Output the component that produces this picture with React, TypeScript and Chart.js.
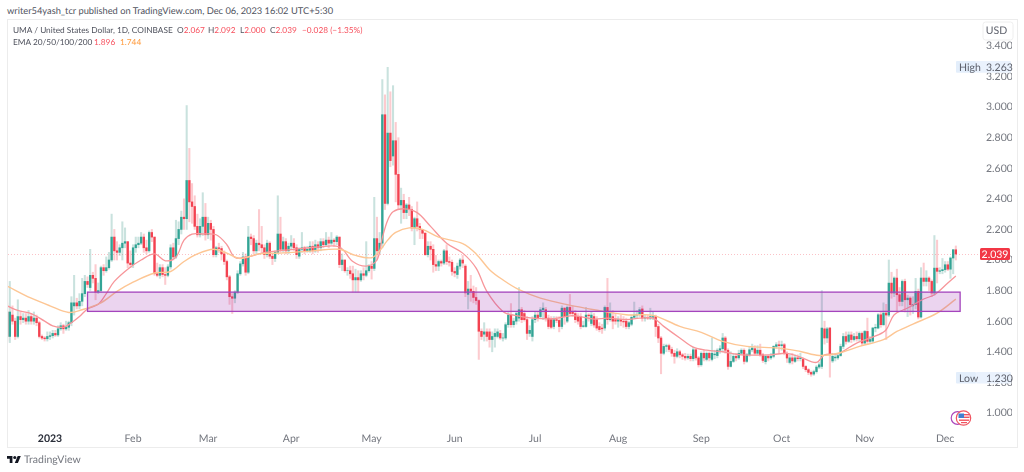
import React, { useEffect, useRef } from "react";
import { Chart, registerables } from "chart.js";

Chart.register(...registerables);

// First candle is 16 days before 1 Jan 2023; day 0 = 1 Jan 2023.
const firstDay = -16;

const opens = [
  1.66,1.50,1.64,1.60,1.50,1.63,1.61,1.62,1.60,1.63,
  1.60,1.62,1.59,1.50,1.49,1.485,1.50,1.505,1.52,1.51,
  1.55,1.57,1.55,1.56,1.59,1.70,1.72,1.70,1.73,1.78,
  1.86,1.82,1.90,1.88,1.79,1.80,1.95,1.93,1.95,2.00,
  2.15,2.06,2.05,2.08,2.11,2.12,1.98,1.97,2.08,2.10,
  2.11,2.15,2.08,2.06,2.18,2.15,1.91,1.90,1.95,1.905,
  1.90,1.955,2.08,2.02,2.14,2.20,2.28,2.27,2.52,2.38,
  2.35,2.22,2.165,2.22,2.28,2.165,2.24,2.20,2.035,2.08,
  2.075,2.04,1.99,1.89,1.76,1.75,1.79,1.91,1.975,2.02,
  1.92,2.15,2.14,2.06,2.11,2.10,2.08,2.035,2.11,2.025,
  2.01,2.05,2.17,2.07,2.12,2.06,2.09,2.11,2.08,2.025,
  2.07,2.08,2.06,2.06,2.09,2.06,2.10,2.08,2.12,2.10,
  2.13,2.11,2.13,2.12,2.15,1.97,2.00,1.93,1.93,1.91,
  1.87,1.885,1.87,1.91,1.90,1.93,1.96,1.945,2.14,2.06,
  2.11,2.95,2.37,2.83,2.68,2.78,2.56,2.36,2.39,2.31,
  2.36,2.33,2.21,2.27,2.22,2.20,2.175,2.035,2.09,2.07,
  1.97,1.96,1.99,1.98,2.06,1.99,1.985,1.925,1.905,1.96,
  2.00,1.96,1.775,1.81,1.795,1.755,1.735,1.534,1.515,1.53,
  1.53,1.48,1.50,1.50,1.52,1.49,1.49,1.577,1.64,1.577,
  1.60,1.62,1.675,1.65,1.61,1.52,1.50,1.61,1.64,1.63,
  1.675,1.675,1.62,1.61,1.565,1.61,1.605,1.565,1.685,1.60,
  1.69,1.66,1.65,1.63,1.63,1.565,1.565,1.64,1.585,1.63,
  1.61,1.565,1.555,1.555,1.69,1.61,1.63,1.61,1.60,1.61,
  1.60,1.60,1.565,1.58,1.625,1.64,1.645,1.68,1.62,1.625,
  1.62,1.625,1.63,1.565,1.49,1.39,1.435,1.44,1.415,1.39,
  1.37,1.40,1.38,1.37,1.36,1.37,1.355,1.413,1.36,1.315,
  1.39,1.35,1.39,1.35,1.38,1.375,1.41,1.42,1.49,1.41,
  1.304,1.337,1.37,1.36,1.39,1.41,1.337,1.38,1.413,1.42,
  1.39,1.41,1.38,1.335,1.37,1.36,1.37,1.435,1.446,1.44,
  1.446,1.39,1.33,1.36,1.337,1.36,1.355,1.35,1.304,1.283,
  1.265,1.254,1.27,1.30,1.304,1.55,1.49,1.555,1.34,1.36,
  1.36,1.375,1.435,1.50,1.468,1.51,1.48,1.50,1.485,1.52,
  1.457,1.533,1.468,1.47,1.555,1.555,1.642,1.577,1.653,1.64,
  1.849,1.784,1.882,1.773,1.729,1.86,1.74,1.751,1.70,1.708,
  1.795,1.627,1.882,1.86,1.882,1.86,1.784,1.947,1.926,1.93,
  1.937,1.969,1.94,2.013,2.067,
];

const closes = [
  1.50,1.66,1.60,1.50,1.63,1.61,1.62,1.60,1.63,1.60,
  1.62,1.59,1.50,1.49,1.485,1.50,1.505,1.52,1.51,1.55,
  1.57,1.55,1.56,1.59,1.72,1.72,1.70,1.73,1.78,1.86,
  1.84,1.90,1.88,1.79,1.80,1.95,1.93,1.95,2.00,2.15,
  2.06,2.05,2.08,2.11,2.12,1.98,1.97,2.08,2.10,2.11,
  2.15,2.08,2.06,2.18,2.15,1.91,1.90,1.95,1.905,1.90,
  1.955,2.08,2.02,2.14,2.20,2.28,2.27,2.52,2.38,2.35,
  2.22,2.165,2.22,2.28,2.165,2.24,2.20,2.035,2.08,2.075,
  2.04,1.99,1.89,1.76,1.75,1.79,1.91,1.975,2.02,1.92,
  2.15,2.14,2.06,2.11,2.10,2.08,2.035,2.11,2.025,2.01,
  2.05,2.17,2.07,2.12,2.06,2.09,2.11,2.08,2.035,2.07,
  2.08,2.06,2.07,2.09,2.06,2.10,2.08,2.12,2.10,2.13,
  2.11,2.13,2.12,2.15,1.97,2.00,1.93,1.93,1.91,1.87,
  1.885,1.87,1.91,1.90,1.93,1.96,1.945,2.14,2.06,2.11,
  2.95,2.37,2.83,2.65,2.78,2.56,2.36,2.39,2.31,2.36,
  2.33,2.21,2.27,2.22,2.20,2.175,2.035,2.09,2.07,1.97,
  1.96,1.99,1.98,2.06,1.99,1.985,1.925,1.915,1.96,2.00,
  1.98,1.785,1.81,1.795,1.755,1.735,1.534,1.50,1.53,1.50,
  1.48,1.50,1.52,1.53,1.49,1.49,1.577,1.64,1.577,1.60,
  1.65,1.675,1.61,1.61,1.52,1.54,1.61,1.64,1.62,1.675,
  1.685,1.62,1.565,1.56,1.61,1.605,1.565,1.685,1.63,1.69,
  1.65,1.65,1.61,1.60,1.565,1.57,1.64,1.635,1.64,1.575,
  1.555,1.545,1.55,1.69,1.61,1.65,1.60,1.60,1.61,1.60,
  1.595,1.565,1.59,1.625,1.64,1.645,1.675,1.62,1.625,1.62,
  1.63,1.63,1.565,1.49,1.39,1.435,1.44,1.415,1.39,1.37,
  1.40,1.38,1.37,1.36,1.37,1.355,1.413,1.36,1.315,1.39,
  1.36,1.39,1.36,1.39,1.385,1.41,1.42,1.49,1.41,1.304,
  1.337,1.37,1.36,1.39,1.41,1.337,1.38,1.413,1.424,1.39,
  1.41,1.38,1.343,1.37,1.36,1.37,1.435,1.446,1.44,1.446,
  1.39,1.359,1.36,1.34,1.36,1.355,1.36,1.304,1.283,1.265,
  1.254,1.27,1.30,1.315,1.555,1.49,1.55,1.38,1.37,1.365,
  1.375,1.435,1.50,1.468,1.51,1.48,1.50,1.485,1.52,1.457,
  1.533,1.468,1.48,1.555,1.56,1.642,1.577,1.653,1.64,1.849,
  1.784,1.882,1.773,1.729,1.86,1.74,1.751,1.708,1.71,1.795,
  1.627,1.882,1.86,1.882,1.86,1.784,1.947,1.926,1.93,1.937,
  1.969,1.94,2.013,2.067,2.039,
];

const highs = [
  1.72,1.86,1.70,1.62,1.74,1.66,1.65,1.65,1.67,1.65,
  1.66,1.64,1.60,1.51,1.50,1.53,1.53,1.54,1.54,1.57,
  1.59,1.58,1.60,1.60,1.76,1.90,1.75,1.78,1.88,1.90,
  1.89,2.07,1.92,1.97,1.85,1.96,1.97,2.02,2.05,2.30,
  2.20,2.12,2.10,2.25,2.21,2.12,2.06,2.10,2.15,2.15,
  2.18,2.17,2.13,2.19,2.20,2.15,1.98,1.97,1.97,1.95,
  1.97,2.10,2.11,2.26,2.25,2.32,2.40,3.01,2.73,2.50,
  2.42,2.30,2.27,2.44,2.37,2.28,2.26,2.22,2.09,2.11,
  2.09,2.06,2.00,1.90,1.78,1.80,1.93,1.99,2.05,2.04,
  2.22,2.17,2.16,2.13,2.33,2.22,2.10,2.13,2.12,2.04,
  2.06,2.42,2.28,2.15,2.14,2.11,2.16,2.14,2.10,2.08,
  2.18,2.09,2.09,2.12,2.12,2.13,2.12,2.14,2.14,2.18,
  2.15,2.18,2.14,2.16,2.15,2.04,2.00,1.95,1.96,1.96,
  1.94,1.93,1.93,1.95,2.12,1.97,1.99,2.41,2.28,2.18,
  3.18,3.08,3.26,3.10,3.14,2.90,2.80,2.47,2.43,2.37,
  2.41,2.35,2.28,2.38,2.24,2.20,2.18,2.12,2.12,2.10,
  2.03,2.00,2.00,2.07,2.10,2.02,2.00,1.95,1.98,2.01,
  2.03,1.97,1.86,1.90,1.83,1.82,1.74,1.55,1.59,1.55,
  1.55,1.53,1.55,1.55,1.54,1.52,1.59,1.66,1.715,1.62,
  1.66,1.82,1.69,1.67,1.63,1.57,1.63,1.66,1.66,1.69,
  1.72,1.69,1.64,1.63,1.63,1.63,1.63,1.70,1.69,1.70,
  1.775,1.70,1.67,1.65,1.65,1.60,1.69,1.65,1.66,1.65,
  1.63,1.59,1.58,1.70,1.88,1.72,1.67,1.65,1.63,1.64,
  1.63,1.62,1.60,1.64,1.725,1.67,1.69,1.70,1.64,1.64,
  1.685,1.66,1.64,1.58,1.50,1.45,1.45,1.45,1.43,1.41,
  1.42,1.41,1.39,1.39,1.385,1.385,1.43,1.42,1.37,1.40,
  1.41,1.40,1.40,1.49,1.41,1.42,1.44,1.52,1.50,1.42,
  1.40,1.39,1.39,1.41,1.42,1.42,1.39,1.43,1.45,1.44,
  1.44,1.45,1.39,1.38,1.38,1.39,1.44,1.46,1.47,1.47,
  1.455,1.40,1.38,1.39,1.38,1.38,1.39,1.36,1.31,1.29,
  1.275,1.28,1.31,1.33,1.80,1.60,1.56,1.56,1.39,1.39,
  1.39,1.45,1.52,1.53,1.53,1.53,1.52,1.53,1.53,1.53,
  1.54,1.62,1.50,1.56,1.58,1.65,1.66,1.72,1.71,2.00,
  1.92,1.89,1.94,1.82,1.87,1.875,1.77,1.76,1.76,1.88,
  1.81,1.95,1.98,1.93,1.89,1.87,2.16,2.13,1.95,2.01,
  1.99,1.99,2.02,2.07,2.092,
];

const lows = [
  1.47,1.46,1.58,1.48,1.49,1.58,1.59,1.58,1.58,1.58,
  1.58,1.57,1.49,1.48,1.47,1.47,1.48,1.49,1.50,1.50,
  1.54,1.52,1.54,1.54,1.57,1.64,1.68,1.68,1.70,1.76,
  1.82,1.80,1.85,1.74,1.78,1.79,1.90,1.92,1.94,1.99,
  2.00,2.00,2.03,2.00,2.08,1.95,1.95,1.95,2.05,2.08,
  2.10,2.05,2.04,2.05,2.12,1.90,1.89,1.88,1.89,1.84,
  1.89,1.94,2.00,2.01,2.10,2.17,2.20,2.20,2.25,2.24,
  2.20,2.15,2.15,2.16,2.13,2.14,2.13,2.02,2.02,2.05,
  2.00,1.97,1.87,1.71,1.65,1.72,1.78,1.90,1.96,1.90,
  1.91,2.10,2.04,2.04,2.06,2.05,2.01,2.02,2.01,1.97,
  1.99,2.04,2.05,2.05,2.04,2.04,2.07,2.06,2.01,2.01,
  2.05,2.04,2.05,2.05,2.04,2.05,2.05,2.06,2.08,2.09,
  2.08,2.10,2.09,2.10,1.95,1.93,1.92,1.90,1.88,1.79,
  1.79,1.79,1.86,1.87,1.89,1.92,1.875,1.93,2.00,2.04,
  2.08,2.33,2.36,2.61,2.62,2.38,2.33,2.24,2.27,2.27,
  2.29,2.19,2.10,2.19,2.14,2.14,2.03,2.02,2.00,1.92,
  1.93,1.93,1.96,1.97,1.97,1.96,1.90,1.89,1.88,1.94,
  1.95,1.76,1.68,1.73,1.72,1.71,1.35,1.48,1.47,1.47,
  1.43,1.40,1.43,1.49,1.48,1.47,1.48,1.56,1.56,1.56,
  1.58,1.60,1.59,1.60,1.48,1.50,1.47,1.59,1.60,1.62,
  1.61,1.60,1.55,1.55,1.55,1.59,1.53,1.55,1.58,1.59,
  1.64,1.63,1.59,1.58,1.55,1.56,1.56,1.60,1.57,1.56,
  1.54,1.53,1.52,1.54,1.58,1.60,1.55,1.58,1.56,1.57,
  1.56,1.55,1.55,1.57,1.62,1.62,1.63,1.60,1.60,1.61,
  1.61,1.61,1.50,1.46,1.256,1.38,1.40,1.40,1.37,1.325,
  1.36,1.36,1.35,1.345,1.35,1.34,1.34,1.345,1.30,1.305,
  1.34,1.34,1.34,1.34,1.355,1.36,1.39,1.40,1.39,1.285,
  1.30,1.33,1.34,1.35,1.38,1.32,1.33,1.37,1.40,1.38,
  1.38,1.37,1.33,1.32,1.34,1.35,1.36,1.42,1.39,1.41,
  1.38,1.33,1.32,1.32,1.33,1.34,1.34,1.29,1.27,1.25,
  1.24,1.245,1.26,1.29,1.29,1.45,1.46,1.234,1.33,1.34,
  1.35,1.37,1.42,1.45,1.46,1.46,1.47,1.47,1.47,1.44,
  1.45,1.45,1.46,1.46,1.53,1.55,1.56,1.57,1.48,1.63,
  1.75,1.76,1.66,1.70,1.70,1.66,1.63,1.64,1.65,1.68,
  1.615,1.62,1.83,1.83,1.80,1.76,1.77,1.85,1.91,1.91,
  1.92,1.93,1.88,1.91,2.00,
];

const ema20Days = [-16,-12,-7,-2,1,5,8,11,14,18,21,24,29,34,39,43,47,50,53,57,62,66,69,74,79,85,91,100,108,113,118,122,124,126,128,132,137,142,148,154,159,163,169,174,180,188,195,203,208,215,220,225,229,235,240,245,251,258,269,275,280,286,289,294,301,309,312,315,320,326,330,335,338];
const ema20Values = [1.70,1.67,1.65,1.60,1.57,1.56,1.59,1.63,1.68,1.71,1.78,1.86,1.94,2.00,2.04,1.995,2.02,2.13,2.17,2.17,2.165,2.10,2.017,2.02,2.045,2.06,2.07,2.085,2.085,1.99,1.96,2.00,2.145,2.26,2.315,2.335,2.31,2.22,2.11,2.045,1.947,1.795,1.664,1.636,1.62,1.616,1.636,1.614,1.62,1.61,1.62,1.62,1.566,1.49,1.43,1.41,1.40,1.38,1.38,1.39,1.365,1.33,1.38,1.387,1.457,1.51,1.544,1.642,1.686,1.745,1.773,1.85,1.896];

const ema50Days = [-16,-7,0,7,12,19,25,31,39,45,50,55,61,66,71,78,86,98,108,114,120,123,126,129,134,139,145,154,159,164,169,175,183,193,203,215,225,235,243,251,260,272,280,287,294,302,311,316,322,331,338];
const ema50Values = [1.83,1.75,1.70,1.657,1.675,1.72,1.795,1.855,1.915,1.925,1.99,2.04,2.07,2.045,2.01,2.04,2.045,2.06,2.07,2.03,2.015,2.06,2.13,2.18,2.21,2.20,2.15,2.107,2.04,1.937,1.87,1.806,1.751,1.708,1.675,1.642,1.638,1.566,1.527,1.468,1.435,1.424,1.402,1.376,1.39,1.435,1.479,1.533,1.581,1.653,1.744];

const monthDays = [0,31,59,90,120,151,181,212,243,273,304,334];
const monthLabels = ["2023","Feb","Mar","Apr","May","Jun","Jul","Aug","Sep","Oct","Nov","Dec"];
const priceTicks = [1.0,1.2,1.4,1.6,1.8,2.0,2.2,2.4,2.6,2.8,3.0,3.2,3.4];

const zoneLow = 1.664;
const zoneHigh = 1.79;
const zoneStartDay = 14;
const zoneEndDay = 339.6;
const lastPrice = 2.039;
const highPrice = 3.263;
const lowPrice = 1.23;
const fontName = "Lato, sans-serif";

const GREEN = "rgba(38,160,143,0.92)";
const RED = "rgba(242,54,69,0.92)";
const GREEN_WICK = "rgba(38,140,125,0.25)";
const RED_WICK = "rgba(242,54,69,0.26)";

const days = closes.map((_, i) => firstDay + i);
const isUp = closes.map((c, i) => c >= opens[i]);

function roundedBox(ctx: CanvasRenderingContext2D, x: number, y: number, w: number, h: number, r: number) {
  ctx.beginPath();
  ctx.roundRect(x, y, w, h, r);
}

const overlayPlugin = {
  id: "tvOverlay",
  beforeDraw(chart: any) {
    chart.ctx.textRendering = "geometricPrecision";
  },
  beforeDatasetsDraw(chart: any) {
    const { ctx, chartArea, scales } = chart;
    const y = scales.y.getPixelForValue(lastPrice);
    ctx.save();
    ctx.strokeStyle = "rgba(242,54,69,0.3)";
    ctx.lineWidth = 1;
    ctx.setLineDash([1, 2]);
    ctx.beginPath();
    ctx.moveTo(chartArea.left, Math.round(y) + 0.5);
    ctx.lineTo(chartArea.right, Math.round(y) + 0.5);
    ctx.stroke();
    ctx.restore();
  },
  afterDatasetsDraw(chart: any) {
    const { ctx, scales } = chart;
    const x0 = scales.x.getPixelForValue(zoneStartDay);
    const x1 = scales.x.getPixelForValue(zoneEndDay);
    const y0 = scales.y.getPixelForValue(zoneHigh);
    const y1 = scales.y.getPixelForValue(zoneLow);
    ctx.save();
    ctx.fillStyle = "rgba(156,39,176,0.2)";
    ctx.fillRect(x0, y0, x1 - x0, y1 - y0);
    ctx.strokeStyle = "#a445bd";
    ctx.lineWidth = 1.3;
    ctx.strokeRect(x0, y0, x1 - x0, y1 - y0);
    ctx.restore();
  },
  afterDraw(chart: any) {
    const { ctx, scales } = chart;
    ctx.save();
    ctx.textBaseline = "middle";
    ctx.font = `10.5px ${fontName}`;
    const pill = (label: string, value: number) => {
      const cy = scales.y.getPixelForValue(value);
      ctx.fillStyle = "#e3eefb";
      roundedBox(ctx, 956, cy - 5.8, 20, 11.6, 1);
      ctx.fill();
      ctx.fillStyle = "#eaf2fd";
      roundedBox(ctx, 976, cy - 5.8, 35, 11.6, 1);
      ctx.fill();
      ctx.fillStyle = "#5d606b";
      ctx.textAlign = "left";
      ctx.fillText(label, 959, cy + 0.5);
      ctx.fillText(value.toFixed(3), 986, cy + 0.5);
    };
    pill("High", highPrice);
    pill("Low", lowPrice);

    const ly = scales.y.getPixelForValue(lastPrice);
    ctx.fillStyle = "#f23645";
    roundedBox(ctx, 980, ly - 6, 30, 12, 1.5);
    ctx.fill();
    ctx.fillStyle = "#ffffff";
    ctx.textAlign = "center";
    ctx.fillText(lastPrice.toFixed(3), 995, ly + 0.5);

    ctx.fillStyle = "#ffffff";
    ctx.strokeStyle = "#eeeeee";
    roundedBox(ctx, 983, 22, 30, 18, 2.5);
    ctx.fill();
    ctx.stroke();
    ctx.fillStyle = "#5d606b";
    ctx.fillText("USD", 996.5, 31);

    // Symbol badge at the end of the chart
    ctx.lineWidth = 1.2;
    ctx.strokeStyle = "#ab47bc";
    ctx.beginPath();
    ctx.arc(957.5, 418, 6.3, 0, Math.PI * 2);
    ctx.stroke();
    ctx.fillStyle = "#ffffff";
    ctx.beginPath();
    ctx.arc(963.5, 418, 7.2, 0, Math.PI * 2);
    ctx.fill();
    ctx.strokeStyle = "#f0535f";
    ctx.stroke();
    ctx.fillStyle = "#3f7fd0";
    ctx.fillRect(958.5, 413.5, 5.5, 4.5);
    ctx.fillStyle = "#f0535f";
    ctx.fillRect(964, 414, 5.5, 1.4);
    ctx.fillRect(964, 416.6, 5.5, 1.4);
    ctx.fillRect(959, 419.5, 10, 1.4);
    ctx.fillRect(961, 422, 6, 1.2);
    ctx.restore();
  },
};

export default function App() {
  const ref = useRef<HTMLCanvasElement | null>(null);

  useEffect(() => {
    if (!ref.current) return;
    const chart = new Chart(ref.current, {
      type: "bar",
      data: {
        datasets: [
          {
            type: "line",
            label: "EMA 20",
            data: ema20Days.map((d, i) => ({ x: d, y: ema20Values[i] })),
            borderColor: "#f7969a",
            borderWidth: 1.3,
            pointRadius: 0,
            tension: 0.35,
            order: 1,
          },
          {
            type: "line",
            label: "EMA 50",
            data: ema50Days.map((d, i) => ({ x: d, y: ema50Values[i] })),
            borderColor: "#fdc694",
            borderWidth: 1.4,
            pointRadius: 0,
            tension: 0.35,
            order: 0,
          },
          {
            label: "Body",
            data: days.map((d, i) => ({ x: d, y: [opens[i], closes[i]] })),
            backgroundColor: isUp.map((u) => (u ? GREEN : RED)),
            barThickness: 1.7,
            grouped: false,
            order: 2,
          },
          {
            label: "Wick",
            data: days.map((d, i) => ({ x: d, y: [lows[i], highs[i]] })),
            backgroundColor: isUp.map((u) => (u ? GREEN_WICK : RED_WICK)),
            barThickness: 1.4,
            grouped: false,
            order: 3,
          },
        ] as any,
      },
      options: {
        responsive: false,
        animation: false,
        devicePixelRatio: 1,
        layout: { padding: { left: 8, top: 19, right: 12, bottom: 25 } },
        plugins: {
          legend: { display: false },
          tooltip: { enabled: false },
        },
        scales: {
          x: {
            type: "linear",
            offset: false,
            min: -15.67,
            max: 347.76,
            grid: { display: false, drawTicks: false },
            border: { display: false },
            afterBuildTicks: (scale: any) => {
              scale.ticks = monthDays.map((value) => ({ value }));
            },
            afterFit: (scale: any) => {
              scale.height = 20;
            },
            ticks: {
              autoSkip: false,
              maxRotation: 0,
              padding: 5,
              color: (c: any) => (c.index === 0 ? "#2a2e39" : "#74777f"),
              font: (c: any) => ({
                family: fontName,
                size: 10.5,
                weight: c.index === 0 ? "bold" : "normal",
              }),
              callback: (_v: any, i: number) => monthLabels[i],
            },
          },
          y: {
            type: "linear",
            position: "right",
            min: 0.908,
            max: 3.576,
            grid: { display: false, drawTicks: false },
            border: { display: false },
            afterBuildTicks: (scale: any) => {
              scale.ticks = priceTicks.map((value) => ({ value }));
            },
            afterFit: (scale: any) => {
              scale.width = 30;
            },
            ticks: {
              padding: 4,
              color: "#74777f",
              font: { family: fontName, size: 10.5 },
              callback: (v: any) => Number(v).toFixed(3),
            },
          },
        },
      } as any,
      plugins: [overlayPlugin as any],
    });
    return () => chart.destroy();
  }, []);

  const text: React.CSSProperties = {
    position: "absolute",
    fontFamily: fontName,
    whiteSpace: "nowrap",
    lineHeight: "12px",
    color: "#50535e",
    textRendering: "geometricPrecision",
  };
  const legend: React.CSSProperties = { ...text, fontSize: 8.3 };
  const red = { color: "#f7525f" };

  return (
    <div style={{ position: "absolute", left: 0, top: 0, width: 1024, height: 472, overflow: "hidden", background: "#fff" }}>
      <div style={{ ...text, left: 7, top: 5, fontSize: 9.3 }}>
        writer54yash_tcr published on TradingView.com, Dec 06, 2023 16:02 UTC+5:30
      </div>
      <div style={{ position: "absolute", left: 7, top: 19, width: 1009, height: 427, border: "1px solid #ececec" }} />
      <canvas ref={ref} width={1024} height={472} style={{ position: "absolute", left: 0, top: 0, display: "block" }} />
      <div style={{ ...legend, left: 13, top: 24 }}>UMA / United States Dollar, 1D, COINBASE</div>
      <div style={{ ...legend, left: 177, top: 24 }}>O<span style={red}>2.067</span></div>
      <div style={{ ...legend, left: 208, top: 24 }}>H<span style={red}>2.092</span></div>
      <div style={{ ...legend, left: 240, top: 24 }}>L<span style={red}>2.000</span></div>
      <div style={{ ...legend, left: 270, top: 24 }}>C<span style={red}>2.039</span></div>
      <div style={{ ...legend, ...red, left: 302, top: 24 }}>−0.028 (−1.35%)</div>
      <div style={{ ...legend, left: 13, top: 36 }}>EMA 20/50/100/200</div>
      <div style={{ ...legend, ...red, left: 94, top: 36 }}>1.896</div>
      <div style={{ ...legend, color: "#ff9a3c", left: 120, top: 36 }}>1.744</div>
      <svg width={14} height={7} viewBox="0 4 36 18" style={{ position: "absolute", left: 7, top: 456 }}>
        <path d="M14 22H7V11H0V4h14v18zM28 22h-8l7.5-18h8L28 22z" fill="#131722" />
        <circle cx={20} cy={8} r={4} fill="#131722" />
      </svg>
      <div style={{ ...text, left: 24, top: 454, fontSize: 10.5, color: "#74777f" }}>TradingView</div>
    </div>
  );
}
